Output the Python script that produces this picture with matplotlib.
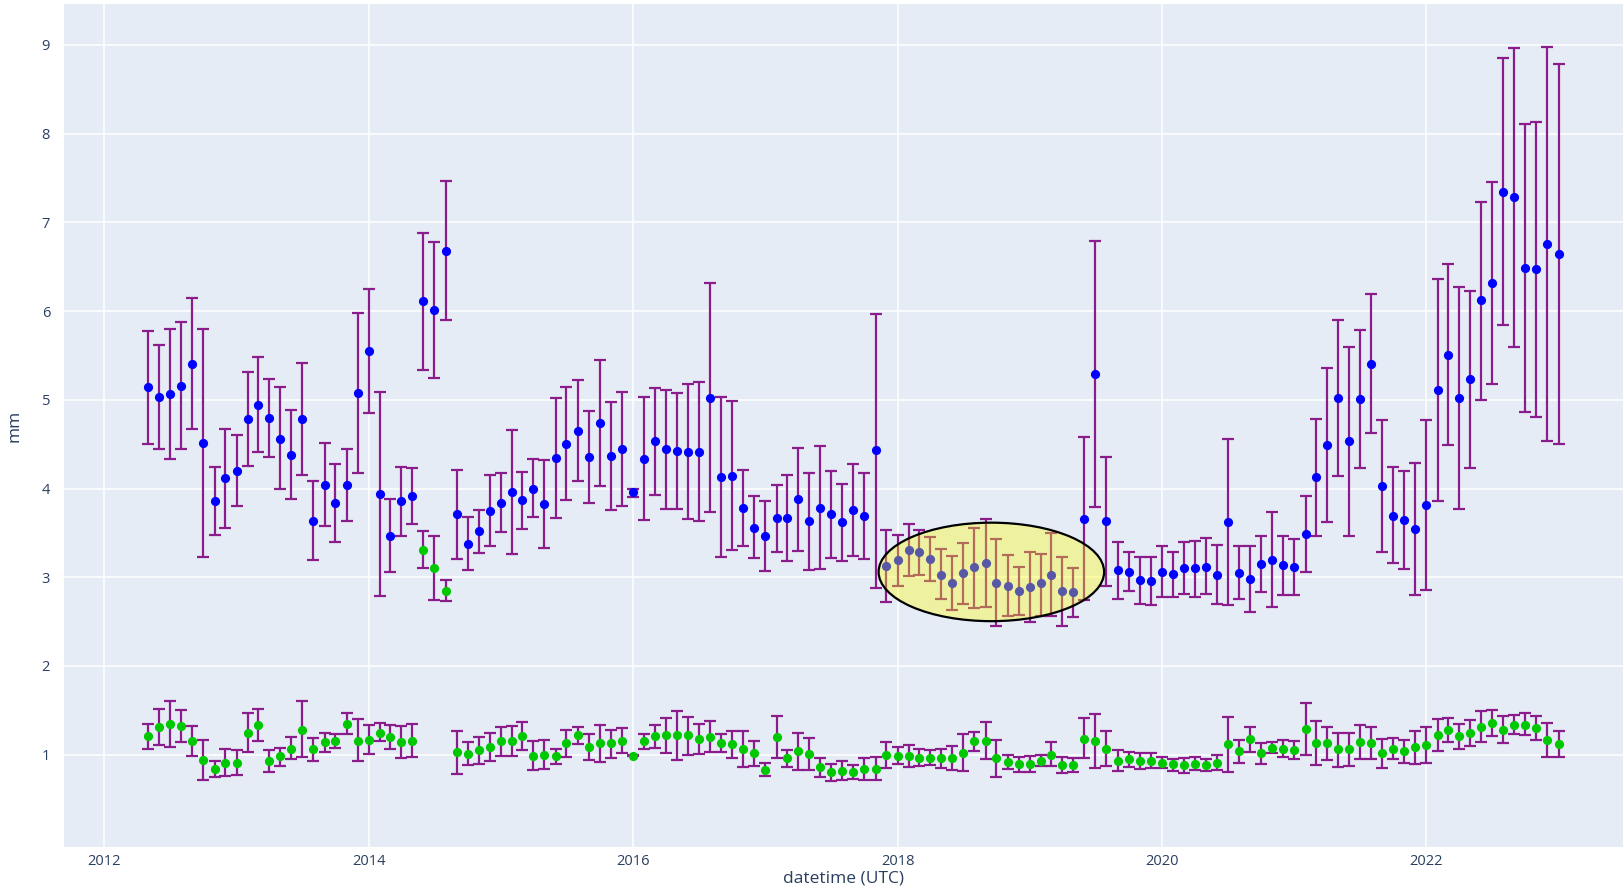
import numpy as np
import pandas as pd
import matplotlib
matplotlib.use("Agg")
import matplotlib.pyplot as plt
import matplotlib.dates as mdates
from matplotlib.patches import Ellipse

# monthly samples, May 2012 .. Jan 2023
dates = pd.date_range("2012-05-01", periods=129, freq="MS")

blue_y = [5.14, 5.03, 5.06, 5.16, 5.40, 4.51, 3.86, 4.12, 4.20, 4.78,
          4.94, 4.79, 4.56, 4.38, 4.78, 3.63, 4.04, 3.84, 4.04, 5.08,
          5.55, 3.94, 3.47, 3.86, 3.92, 6.11, 6.01, 6.68, 3.71, 3.38,
          3.52, 3.75, 3.84, 3.96, 3.87, 4.00, 3.82, 4.34, 4.50, 4.65,
          4.35, 4.74, 4.37, 4.44, 3.96, 4.33, 4.53, 4.44, 4.42, 4.41,
          4.41, 5.02, 4.13, 4.14, 3.78, 3.56, 3.47, 3.67, 3.67, 3.88,
          3.63, 3.78, 3.71, 3.62, 3.76, 3.69, 4.43, 3.13, 3.19, 3.31,
          3.28, 3.21, 3.03, 2.94, 3.05, 3.11, 3.16, 2.94, 2.90, 2.85,
          2.89, 2.93, 3.03, 2.85, 2.83, 3.66, 5.29, 3.63, 3.08, 3.06,
          2.97, 2.96, 3.06, 3.04, 3.10, 3.10, 3.12, 3.03, 3.62, 3.05,
          2.98, 3.15, 3.19, 3.14, 3.12, 3.49, 4.13, 4.49, 5.02, 4.53,
          5.01, 5.40, 4.03, 3.69, 3.64, 3.54, 3.81, 5.11, 5.51, 5.02,
          5.23, 6.12, 6.32, 7.34, 7.28, 6.49, 6.47, 6.75, 6.64]
blue_hi = [5.78, 5.62, 5.80, 5.88, 6.15, 5.80, 4.24, 4.67, 4.60, 5.31,
           5.48, 5.23, 5.14, 4.88, 5.41, 4.08, 4.51, 4.28, 4.45, 5.98,
           6.25, 5.09, 3.88, 4.24, 4.23, 6.88, 6.78, 7.47, 4.21, 3.68,
           3.76, 4.15, 4.17, 4.66, 4.19, 4.33, 4.32, 5.02, 5.14, 5.22,
           4.87, 5.45, 4.98, 5.09, 4.00, 5.03, 5.13, 5.11, 5.08, 5.18,
           5.20, 6.32, 5.03, 4.99, 4.21, 3.91, 3.86, 4.04, 4.15, 4.46,
           4.17, 4.48, 4.20, 4.05, 4.28, 4.18, 5.97, 3.53, 3.48, 3.60,
           3.53, 3.45, 3.32, 3.24, 3.39, 3.56, 3.66, 3.43, 3.25, 3.11,
           3.28, 3.26, 3.50, 3.23, 3.10, 4.58, 6.79, 4.35, 3.40, 3.28,
           3.23, 3.23, 3.35, 3.29, 3.40, 3.41, 3.44, 3.36, 4.56, 3.35,
           3.35, 3.47, 3.74, 3.47, 3.43, 3.92, 4.78, 5.36, 5.90, 5.60,
           5.79, 6.19, 4.77, 4.24, 4.20, 4.29, 4.77, 6.36, 6.53, 6.27,
           6.23, 7.23, 7.45, 8.85, 8.96, 8.11, 8.13, 8.98, 8.78]
blue_lo = [4.50, 4.45, 4.33, 4.44, 4.67, 3.23, 3.48, 3.56, 3.80, 4.25,
           4.41, 4.35, 3.99, 3.88, 4.15, 3.19, 3.58, 3.40, 3.63, 4.17,
           4.85, 2.79, 3.06, 3.47, 3.60, 5.34, 5.24, 5.90, 3.21, 3.08,
           3.27, 3.35, 3.51, 3.26, 3.54, 3.68, 3.33, 3.67, 3.87, 4.09,
           3.84, 4.03, 3.76, 3.80, 3.90, 3.64, 3.93, 3.77, 3.77, 3.66,
           3.63, 3.73, 3.23, 3.31, 3.35, 3.22, 3.07, 3.29, 3.18, 3.30,
           3.08, 3.09, 3.22, 3.18, 3.24, 3.20, 2.88, 2.72, 2.90, 3.01,
           3.03, 2.96, 2.75, 2.63, 2.70, 2.65, 2.66, 2.45, 2.56, 2.58,
           2.50, 2.56, 2.56, 2.45, 2.55, 2.74, 3.79, 2.90, 2.75, 2.85,
           2.70, 2.69, 2.78, 2.78, 2.81, 2.78, 2.81, 2.70, 2.69, 2.75,
           2.61, 2.83, 2.66, 2.80, 2.80, 3.06, 3.47, 3.62, 4.14, 3.47,
           4.23, 4.62, 3.29, 3.16, 3.09, 2.80, 2.86, 3.86, 4.49, 3.77,
           4.23, 5.00, 5.18, 5.84, 5.60, 4.86, 4.81, 4.53, 4.50]

green_y = [1.21, 1.31, 1.35, 1.32, 1.15, 0.94, 0.84, 0.91, 0.91, 1.25,
           1.34, 0.93, 0.98, 1.07, 1.28, 1.06, 1.14, 1.15, 1.35, 1.16,
           1.17, 1.25, 1.20, 1.14, 1.16, 3.31, 3.10, 2.85, 1.03, 1.01,
           1.05, 1.09, 1.15, 1.15, 1.21, 0.99, 1.00, 0.98, 1.13, 1.22,
           1.09, 1.13, 1.13, 1.16, 0.99, 1.15, 1.21, 1.22, 1.22, 1.22,
           1.18, 1.20, 1.13, 1.12, 1.07, 1.02, 0.83, 1.20, 0.96, 1.04,
           1.01, 0.86, 0.80, 0.82, 0.81, 0.84, 0.84, 1.00, 0.99, 0.98,
           0.96, 0.96, 0.96, 0.96, 1.02, 1.15, 1.16, 0.96, 0.92, 0.89,
           0.89, 0.93, 1.00, 0.88, 0.88, 1.18, 1.16, 1.06, 0.93, 0.95,
           0.93, 0.93, 0.91, 0.89, 0.88, 0.90, 0.88, 0.91, 1.12, 1.04,
           1.18, 1.02, 1.08, 1.07, 1.05, 1.29, 1.13, 1.13, 1.06, 1.06,
           1.14, 1.13, 1.02, 1.07, 1.04, 1.09, 1.11, 1.22, 1.28, 1.21,
           1.24, 1.31, 1.36, 1.28, 1.34, 1.34, 1.30, 1.17, 1.12]
green_hi = [1.35, 1.51, 1.61, 1.50, 1.32, 1.17, 0.93, 1.06, 1.05, 1.47,
            1.52, 1.05, 1.08, 1.20, 1.60, 1.19, 1.25, 1.23, 1.47, 1.40,
            1.34, 1.36, 1.34, 1.32, 1.35, 3.52, 3.47, 2.97, 1.27, 1.14,
            1.20, 1.25, 1.31, 1.32, 1.37, 1.16, 1.17, 1.07, 1.28, 1.31,
            1.23, 1.34, 1.28, 1.30, 1.00, 1.23, 1.33, 1.41, 1.49, 1.43,
            1.35, 1.38, 1.23, 1.27, 1.27, 1.16, 0.91, 1.44, 1.05, 1.24,
            1.19, 0.96, 0.90, 0.93, 0.88, 0.96, 0.97, 1.14, 1.09, 1.11,
            1.06, 1.05, 1.07, 1.10, 1.23, 1.26, 1.37, 1.17, 1.00, 0.97,
            0.99, 1.00, 1.14, 0.97, 0.96, 1.41, 1.46, 1.27, 1.05, 1.03,
            1.02, 1.02, 0.97, 0.95, 0.96, 0.97, 0.95, 1.00, 1.43, 1.17,
            1.31, 1.13, 1.14, 1.17, 1.15, 1.58, 1.38, 1.31, 1.24, 1.25,
            1.33, 1.31, 1.18, 1.19, 1.17, 1.27, 1.31, 1.40, 1.41, 1.35,
            1.39, 1.49, 1.50, 1.44, 1.45, 1.47, 1.44, 1.36, 1.27]
green_lo = [1.07, 1.11, 1.09, 1.14, 0.98, 0.72, 0.75, 0.76, 0.77, 1.03,
            1.15, 0.81, 0.87, 0.95, 0.97, 0.93, 1.03, 1.08, 1.23, 0.93,
            1.01, 1.15, 1.06, 0.96, 0.97, 3.10, 2.74, 2.73, 0.78, 0.88,
            0.90, 0.93, 0.99, 0.98, 1.05, 0.83, 0.84, 0.90, 0.97, 1.12,
            0.94, 0.92, 0.96, 1.02, 0.98, 1.06, 1.08, 1.02, 0.94, 1.00,
            1.01, 1.03, 1.03, 0.96, 0.86, 0.87, 0.76, 0.96, 0.86, 0.83,
            0.83, 0.75, 0.70, 0.72, 0.73, 0.71, 0.71, 0.85, 0.90, 0.86,
            0.87, 0.88, 0.85, 0.83, 0.82, 1.04, 0.95, 0.75, 0.84, 0.81,
            0.80, 0.87, 0.87, 0.79, 0.81, 0.96, 0.85, 0.87, 0.82, 0.86,
            0.84, 0.85, 0.85, 0.82, 0.79, 0.83, 0.82, 0.83, 0.81, 0.91,
            1.03, 0.90, 1.02, 0.97, 0.95, 1.00, 0.88, 0.94, 0.86, 0.87,
            0.95, 0.95, 0.85, 0.95, 0.91, 0.90, 0.91, 1.04, 1.14, 1.07,
            1.10, 1.14, 1.21, 1.13, 1.23, 1.22, 1.17, 0.97, 0.97]

BG = "#E5ECF6"
TXT = "#2a3f5f"
ERR = "#8b1c8b"

fig = plt.figure(figsize=(16.23, 8.88), dpi=100)
ax = fig.add_axes([64 / 1623, 1 - 847 / 888, 1 - 64 / 1623, (847 - 4) / 888])
ax.set_facecolor(BG)
for s in ax.spines.values():
    s.set_visible(False)

for ys, hi, lo, col in [(blue_y, blue_hi, blue_lo, "blue"),
                        (green_y, green_hi, green_lo, "#00c800")]:
    ys, hi, lo = np.array(ys), np.array(hi), np.array(lo)
    ax.errorbar(dates, ys, yerr=[ys - lo, hi - ys], fmt="o", color=col,
                ms=5.6, mec=col, ecolor=ERR, elinewidth=1.6, capsize=4,
                capthick=1.6, zorder=3)

# highlighted period
ell_center = mdates.date2num(pd.Timestamp("2018-09-17"))
ax.add_patch(Ellipse((ell_center, 3.06), width=623, height=1.11,
                     facecolor=(1, 1, 0, 0.35), edgecolor="black",
                     linewidth=1.6, zorder=5))

ax.set_xlim(pd.Timestamp("2011-09-12"), pd.Timestamp("2023-06-28"))
ax.set_ylim(-0.04, 9.46)
ax.xaxis.set_major_locator(mdates.YearLocator(2))
ax.xaxis.set_major_formatter(mdates.DateFormatter("%Y"))
ax.set_yticks(range(1, 10))
ax.grid(True, color="white", linewidth=1.1)
ax.set_axisbelow(True)
ax.tick_params(length=0, labelsize=10.5, colors=TXT)
ax.tick_params(axis="x", pad=5)
ax.tick_params(axis="y", pad=10)
for lab in ax.get_xticklabels() + ax.get_yticklabels():
    lab.set_fontfamily("Open Sans")

ax.set_xlabel("datetime (UTC)", fontsize=12.5, color=TXT, family="Open Sans", labelpad=1)
ax.set_ylabel("mm", fontsize=12.5, color=TXT, family="Open Sans", labelpad=14)

fig.savefig("out.png", dpi=100)
